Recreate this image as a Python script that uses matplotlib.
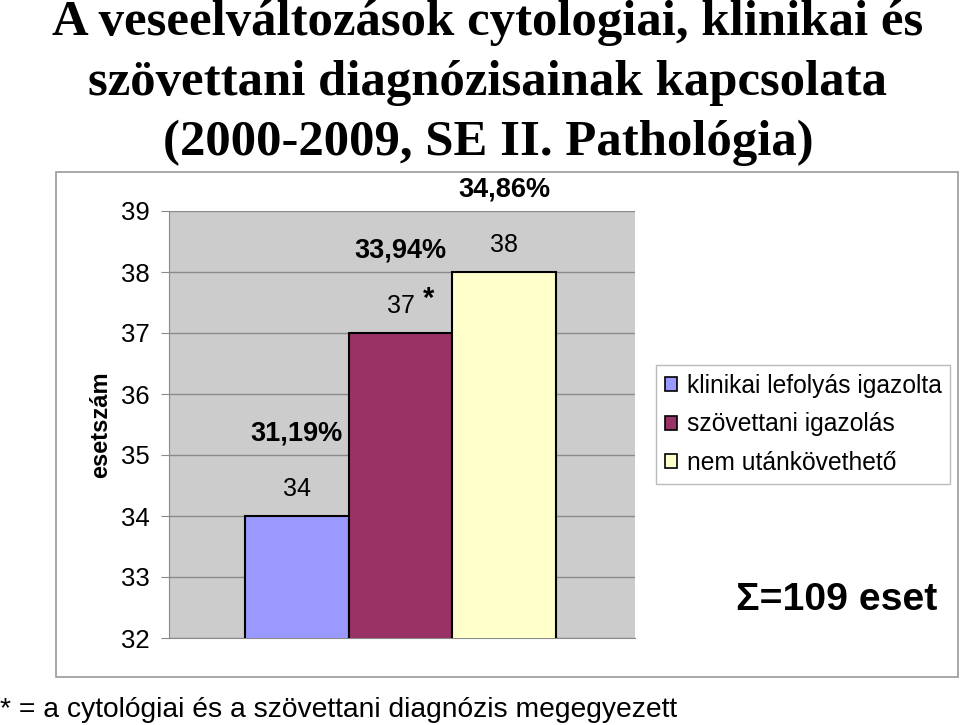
import matplotlib
matplotlib.use("Agg")
import matplotlib.pyplot as plt
from matplotlib.patches import Patch, Rectangle

# ---- data ----
categories = ["klinikai lefolyás igazolta", "szövettani igazolás", "nem utánkövethető"]
counts = [34, 37, 38]
percents = ["31,19%", "33,94%", "34,86%"]
star_flags = [False, True, False]
colors = ["#9999FF", "#993366", "#FFFFCC"]
yticks = [32, 33, 34, 35, 36, 37, 38, 39]
title_lines = ["A veseelváltozások cytologiai, klinikai és",
               "szövettani diagnózisainak kapcsolata",
               "(2000-2009, SE II. Pathológia)"]
ylabel = "esetszám"
total_text = "Σ=109 eset"
footnote = "* = a cytológiai és a szövettani diagnózis megegyezett"

plt.rcParams['font.family'] = ['Liberation Sans', 'DejaVu Sans']

W, H = 960, 725
fig = plt.figure(figsize=(W / 100, H / 100), dpi=100)

def fx(px):
    return px / W

def fy(py):
    return 1 - py / H

# outer frame
fig.patches.append(Rectangle((fx(56), fy(677)), fx(958) - fx(56), fy(172) - fy(677),
                             transform=fig.transFigure, fill=False,
                             edgecolor="#9a9a9a", linewidth=1.2))

# title
for i, line in enumerate(title_lines):
    fig.text(fx(488), fy(35 + 60 * i), line, ha="center", va="baseline",
             fontsize=36.5, fontweight="bold", family=["Liberation Serif", "DejaVu Serif"])

ax = fig.add_axes([fx(169), fy(638), fx(635) - fx(169), fy(211) - fy(638)])
ax.set_facecolor("#CCCCCC")
x = list(range(len(counts)))
bars = ax.bar(x, counts, width=1.0, color=colors, edgecolor="black", linewidth=1.5,
              zorder=3)
ax.set_ylim(32, 39)
ax.set_xlim(-1.23, 3.26)
ax.set_yticks(yticks)
ax.yaxis.grid(True, color="#8a8a8a", linewidth=1.0, zorder=0)
ax.set_axisbelow(True)
ax.set_xticks([])
for s in ["top", "right"]:
    ax.spines[s].set_visible(False)
ax.spines["left"].set_color("#8a8a8a")
ax.spines["bottom"].set_color("#8a8a8a")
ax.tick_params(axis="y", direction="out", length=6, color="#8a8a8a",
               labelsize=18.5, pad=8)
ax.set_ylabel(ylabel, fontsize=17, fontweight="bold", labelpad=6)

for xi, v, p, star in zip(x, counts, percents, star_flags):
    ax.text(xi, v + 0.45, str(v), ha="center", va="center", fontsize=18, zorder=5)
    ax.text(xi, v + 1.35, p, ha="center", va="center", fontsize=19.5,
            fontweight="bold", clip_on=False, zorder=5)
    if star:
        ax.annotate("*", xy=(xi, v + 0.45), xytext=(20, 5), textcoords="offset points",
                    ha="center", va="center", fontsize=21, fontweight="bold")

handles = [Patch(facecolor=c, edgecolor="black", linewidth=1.2) for c in colors]
leg = fig.legend(handles, categories, loc="upper left",
                 bbox_to_anchor=(fx(656), fy(365)), borderaxespad=0,
                 fontsize=17.7, frameon=True, fancybox=False, framealpha=1,
                 edgecolor="#bbbbbb", handlelength=0.5, handleheight=0.5,
                 handletextpad=0.4, labelspacing=0.6, borderpad=0.35)
leg.get_frame().set_linewidth(1.0)

fig.text(fx(837), fy(600), total_text, ha="center", va="center", fontsize=28.3,
         fontweight="bold")
fig.text(fx(0), fy(710), footnote, ha="left", va="center", fontsize=20.3)

fig.savefig("out.png", dpi=100)
